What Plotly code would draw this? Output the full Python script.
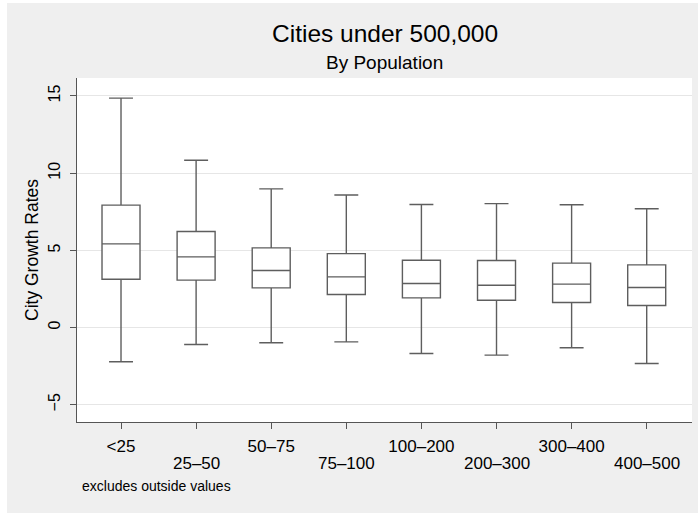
import plotly.graph_objects as go

# ---- data ----
categories = ["<25", "25–50", "50–75", "75–100", "100–200", "200–300", "300–400", "400–500"]
lower_whisker = [-2.22, -1.10, -0.99, -0.93, -1.68, -1.79, -1.31, -2.33]
q1_vals = [3.13, 3.07, 2.57, 2.14, 1.92, 1.77, 1.62, 1.43]
median_vals = [5.42, 4.58, 3.69, 3.28, 2.85, 2.74, 2.81, 2.59]
q3_vals = [7.93, 6.22, 5.16, 4.79, 4.36, 4.34, 4.17, 4.06]
upper_whisker = [14.86, 10.84, 8.98, 8.59, 7.97, 8.03, 7.95, 7.69]
y_ticks = [-5, 0, 5, 10, 15]

FONT = "Liberation Sans, Arial, Helvetica, sans-serif"
positions = list(range(len(categories)))


def esc(s):
    return s.replace("&", "&amp;").replace("<", "&lt;").replace(">", "&gt;")


# first row of labels as tick labels, second row as annotations below
ticktext = [esc(c) if i % 2 == 0 else "" for i, c in enumerate(categories)]

fig = go.Figure()
fig.add_trace(go.Box(
    x=positions,
    q1=q1_vals,
    median=median_vals,
    q3=q3_vals,
    lowerfence=lower_whisker,
    upperfence=upper_whisker,
    width=0.506,
    whiskerwidth=0.63,
    fillcolor="white",
    line=dict(color="#5e5e5e", width=1.4),
    boxpoints=False,
    showlegend=False,
    hoverinfo="skip",
))

L, R, T, B = 77, 6, 78, 91
W, H = 698, 513
pw, ph = W - L - R, H - T - B


def px_x(p):
    return (p - L) / pw


def px_y(p):
    return (H - B - p) / ph


annotations = [
    dict(text="Cities under 500,000", xref="paper", yref="paper", x=0.5, y=px_y(33.5),
         xanchor="center", yanchor="middle", showarrow=False,
         font=dict(size=24.5, family=FONT, color="#000000")),
    dict(text="By Population", xref="paper", yref="paper", x=0.5, y=px_y(63),
         xanchor="center", yanchor="middle", showarrow=False,
         font=dict(size=19, family=FONT, color="#000000")),
    dict(text="excludes outside values", xref="paper", yref="paper", x=px_x(80), y=px_y(486),
         xanchor="left", yanchor="middle", showarrow=False,
         font=dict(size=14, family=FONT, color="#000000")),
]
for i, c in enumerate(categories):
    if i % 2 == 1:
        annotations.append(dict(
            text=esc(c), xref="x", yref="paper", x=positions[i], y=px_y(463),
            xanchor="center", yanchor="middle", showarrow=False,
            font=dict(size=17, family=FONT, color="#000000")))

fig.update_layout(
    width=W, height=H,
    margin=dict(l=L, r=R, t=T, b=B, pad=0),
    paper_bgcolor="#efefef",
    plot_bgcolor="white",
    font=dict(family=FONT, color="#000000"),
    xaxis=dict(
        range=[-0.586, 7.603],
        tickmode="array", tickvals=positions, ticktext=ticktext,
        ticks="outside", ticklen=6, tickcolor="#555555", tickwidth=1,
        showline=True, linecolor="#555555", linewidth=1,
        showgrid=False, zeroline=False,
        tickfont=dict(size=17, family=FONT, color="#000000"),
        ticklabelstandoff=3,
        automargin=False,
    ),
    yaxis=dict(
        range=[-6.12, 16.165],
        tickmode="array", tickvals=y_ticks,
        ticktext=[str(v).replace("-", "−") for v in y_ticks],
        ticks="outside", ticklen=6, tickcolor="#555555", tickwidth=1,
        showline=True, linecolor="#555555", linewidth=1,
        showgrid=True, gridcolor="#e6e6e6", gridwidth=1,
        zeroline=False,
        tickangle=-90,
        tickfont=dict(size=16, family=FONT, color="#000000"),
        ticklabelstandoff=4,
        title=dict(text="City Growth Rates", font=dict(size=17.5, family=FONT, color="#000000"), standoff=2),
        automargin=False,
    ),
    shapes=[
        dict(type="rect", xref="paper", yref="paper", x0=px_x(0), x1=px_x(W), y0=px_y(3), y1=px_y(0),
             fillcolor="white", line=dict(width=0), layer="below"),
        dict(type="rect", xref="paper", yref="paper", x0=px_x(0), x1=px_x(7), y0=px_y(H), y1=px_y(0),
             fillcolor="white", line=dict(width=0), layer="below"),
    ],
    annotations=annotations,
)

fig.write_html(
    "out.html",
    config={"displayModeBar": False},
    post_script="document.body.style.margin='0';document.body.style.overflow='hidden';",
)
